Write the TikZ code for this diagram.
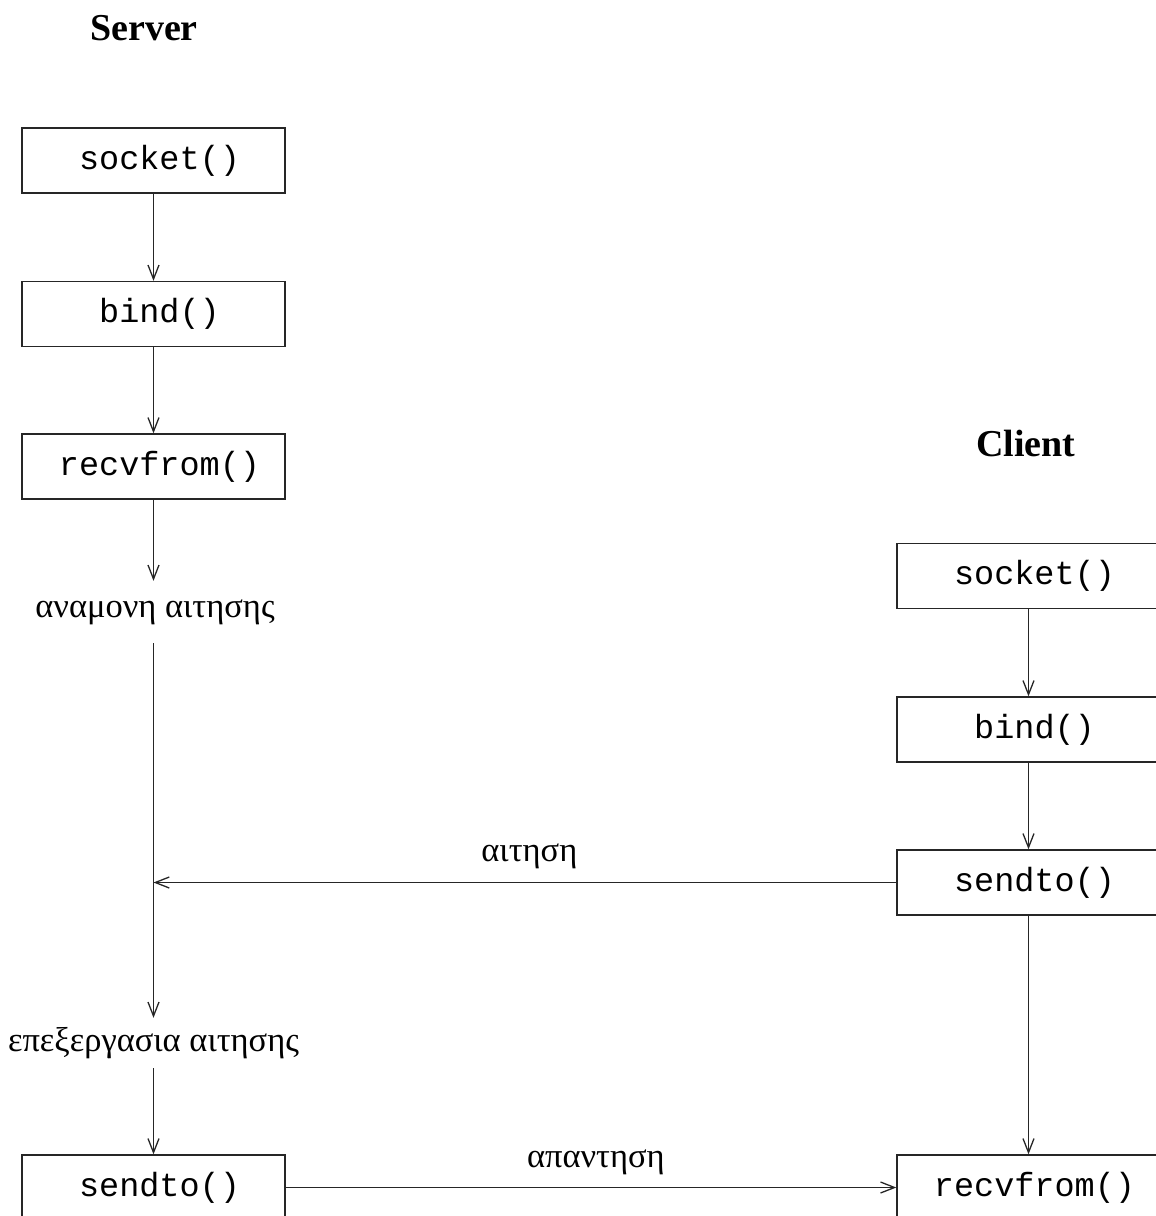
\documentclass[tikz,border=0pt]{standalone}
\usepackage{fontspec}
\setmainfont{Liberation Serif}
\newfontfamily\codefont{Liberation Mono}
\usetikzlibrary{arrows.meta}
\tikzset{
  fn/.style={draw=black!85, line width=1.4pt, minimum width=263pt, minimum height=65pt,
    inner sep=0pt, font=\codefont\fontsize{33.5}{40}\selectfont,
    execute at begin node=\hspace*{12pt}},
  lbl/.style={inner sep=0pt, font=\fontsize{34.5}{40}\selectfont},
  ttl/.style={inner sep=0pt, font=\bfseries\fontsize{38}{44}\selectfont},
  flow/.style={draw=black!85, line width=1.4pt, -{Straight Barb[length=14pt,width=11pt,line width=1.3pt]}}
}
\begin{document}
\begin{tikzpicture}[x=1pt,y=-1pt]
\useasboundingbox (0,0) rectangle (1156,1216);
\clip (0,0) rectangle (1156,1216);
% titles
\node[ttl] (tserver) at (144,28) {Server};
\node[ttl] (tclient) at (1026,443) {Client};
% server
\node[fn] (ssock) at (153.5,160.5) {socket()};
\node[fn] (sbind) at (153.5,314) {bind()};
\node[fn] (srecv) at (153.5,466.5) {recvfrom()};
\node[lbl, minimum height=62pt] (wait) at (155,612) {αναμονη αιτησης};
\node[lbl, minimum height=50pt] (proc) at (153.5,1043) {επεξεργασια αιτησης};
\node[fn] (ssend) at (153.5,1187.5) {sendto()};
% client
\node[fn] (csock) at (1028.5,576) {socket()};
\node[fn] (cbind) at (1028.5,729.5) {bind()};
\node[fn] (csend) at (1028.5,882.5) {sendto()};
\node[fn] (crecv) at (1028.5,1187.5) {recvfrom()};
% server flow
\draw[flow] (ssock) -- (sbind);
\draw[flow] (sbind) -- (srecv);
\draw[flow] (srecv) -- (srecv.south |- wait.north);
\draw[flow] (srecv.south |- wait.south) -- (srecv.south |- proc.north);
\draw[flow] (proc) -- (ssend);
% client flow
\draw[flow] (csock) -- (cbind);
\draw[flow] (cbind) -- (csend);
\draw[flow] (csend) -- (crecv);
% messages
\draw[flow] (csend.west) -- (csend.west -| proc.south) node[lbl, pos=0.494, above=13pt] (req) {αιτηση};
\draw[flow] (ssend.east) -- (crecv.west) node[lbl, pos=0.508, above=12pt] (resp) {απαντηση};
\end{tikzpicture}
\end{document}
